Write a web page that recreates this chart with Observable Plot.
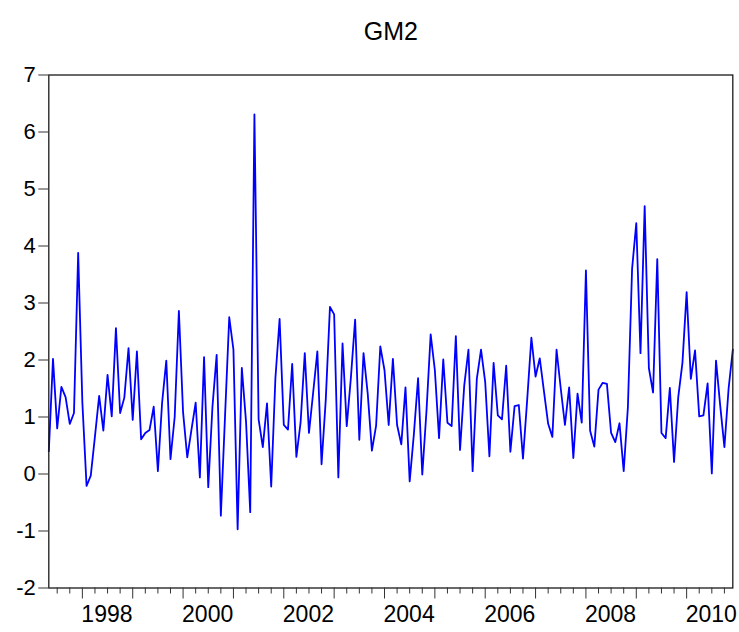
<!DOCTYPE html>
<html>
<head>
<meta charset="utf-8">
<script src="https://cdn.jsdelivr.net/npm/d3@7"></script>
<script src="https://cdn.jsdelivr.net/npm/@observablehq/plot@0.6"></script>
<style>
  html, body { margin: 0; padding: 0; background: #fff; }
  #chart svg { display: block; }
</style>
</head>
<body>
<div id="chart"></div>
<script>
// ---- Data (monthly, first observation May 1997) ----
const title = "GM2";
const startYear = 1997;
const startMonth = 5;
const gm2 = [
  0.40, 2.02, 0.80, 1.53, 1.35, 0.88, 1.07, 3.88, 1.25, -0.21,
  -0.03, 0.66, 1.37, 0.76, 1.74, 1.01, 2.56, 1.07, 1.34, 2.21,
  0.95, 2.15, 0.61, 0.72, 0.77, 1.18, 0.05, 1.25, 1.99, 0.26,
  1.00, 2.86, 1.08, 0.29, 0.78, 1.25, -0.06, 2.05, -0.23, 1.18,
  2.09, -0.73, 1.02, 2.75, 2.18, -0.97, 1.86, 0.92, -0.67, 6.31,
  0.96, 0.47, 1.24, -0.22, 1.68, 2.72, 0.86, 0.78, 1.93, 0.30,
  0.90, 2.12, 0.72, 1.43, 2.15, 0.17, 1.30, 2.93, 2.80, -0.06,
  2.29, 0.84, 1.70, 2.71, 0.60, 2.12, 1.41, 0.41, 0.85, 2.24,
  1.82, 0.86, 2.02, 0.86, 0.52, 1.52, -0.13, 0.70, 1.68, -0.01,
  1.10, 2.45, 1.82, 0.63, 2.01, 0.90, 0.84, 2.42, 0.42, 1.55,
  2.18, 0.05, 1.67, 2.18, 1.61, 0.31, 1.95, 1.03, 0.96, 1.90,
  0.39, 1.19, 1.21, 0.27, 1.30, 2.39, 1.71, 2.03, 1.45, 0.88,
  0.65, 2.18, 1.50, 0.86, 1.52, 0.28, 1.41, 0.90, 3.57, 0.76,
  0.48, 1.48, 1.60, 1.58, 0.72, 0.56, 0.89, 0.05, 1.17, 3.60,
  4.40, 2.12, 4.70, 1.86, 1.43, 3.77, 0.72, 0.63, 1.51, 0.21,
  1.35, 1.95, 3.19, 1.67, 2.17, 1.01, 1.03, 1.59, 0.01, 1.99,
  1.20, 0.47, 1.50, 2.18
];
const yTicks = [-2, -1, 0, 1, 2, 3, 4, 5, 6, 7];
const labelYears = [1998, 2000, 2002, 2004, 2006, 2008, 2010];
const tickYears = [1997, 1998, 1999, 2000, 2001, 2002, 2003, 2004, 2005, 2006, 2007, 2008, 2009, 2010];

// ---- Derived ----
const n = gm2.length;
const idx = (year, month) => (year - startYear) * 12 + (month - startMonth);
const data = gm2.map((v, i) => ({i, v}));
const inRange = i => i >= 0 && i <= n - 1;
const majorTicks = tickYears.map(y => idx(y, 1)).filter(inRange);
const minorTicks = tickYears.flatMap(y => [4, 7, 10].map(m => idx(y, m))).filter(inRange);
const labelTicks = labelYears.map(y => idx(y, 1));
const labelOf = new Map(labelYears.map(y => [idx(y, 1), String(y)]));

const font = "'Liberation Sans Narrow', 'Liberation Sans', Arial, Helvetica, sans-serif";

const chart = Plot.plot({
  width: 739,
  height: 632,
  marginLeft: 48.3,
  marginRight: 6.7,
  marginTop: 74.5,
  marginBottom: 44.5,
  style: {fontFamily: font, background: "#fff", color: "#000"},
  x: {domain: [0, n - 1]},
  y: {domain: [-2, 7]},
  marks: [
    Plot.line(data, {x: "i", y: "v", stroke: "#0000ff", strokeWidth: 1.8}),
    Plot.frame({stroke: "#1a1a1a", strokeWidth: 1.3}),
    Plot.axisY({ticks: yTicks, tickSize: 10, tickPadding: 3, fontSize: 22, label: null,
      tickFormat: d => String(d), stroke: "#333"}),
    Plot.axisX({ticks: majorTicks, tickSize: 11, tickFormat: () => "", label: null, stroke: "#333"}),
    Plot.axisX({ticks: minorTicks, tickSize: 6, tickFormat: () => "", label: null, stroke: "#333"}),
    Plot.axisX({ticks: labelTicks, tickSize: 0, tickPadding: 18, fontSize: 23, label: null,
      textAnchor: "start", dx: -1, tickFormat: d => labelOf.get(d)}),
    Plot.text([title], {frameAnchor: "top", dy: -52.5, fontSize: 25, fill: "#000"})
  ]
});
document.getElementById("chart").appendChild(chart);
</script>
</body>
</html>
